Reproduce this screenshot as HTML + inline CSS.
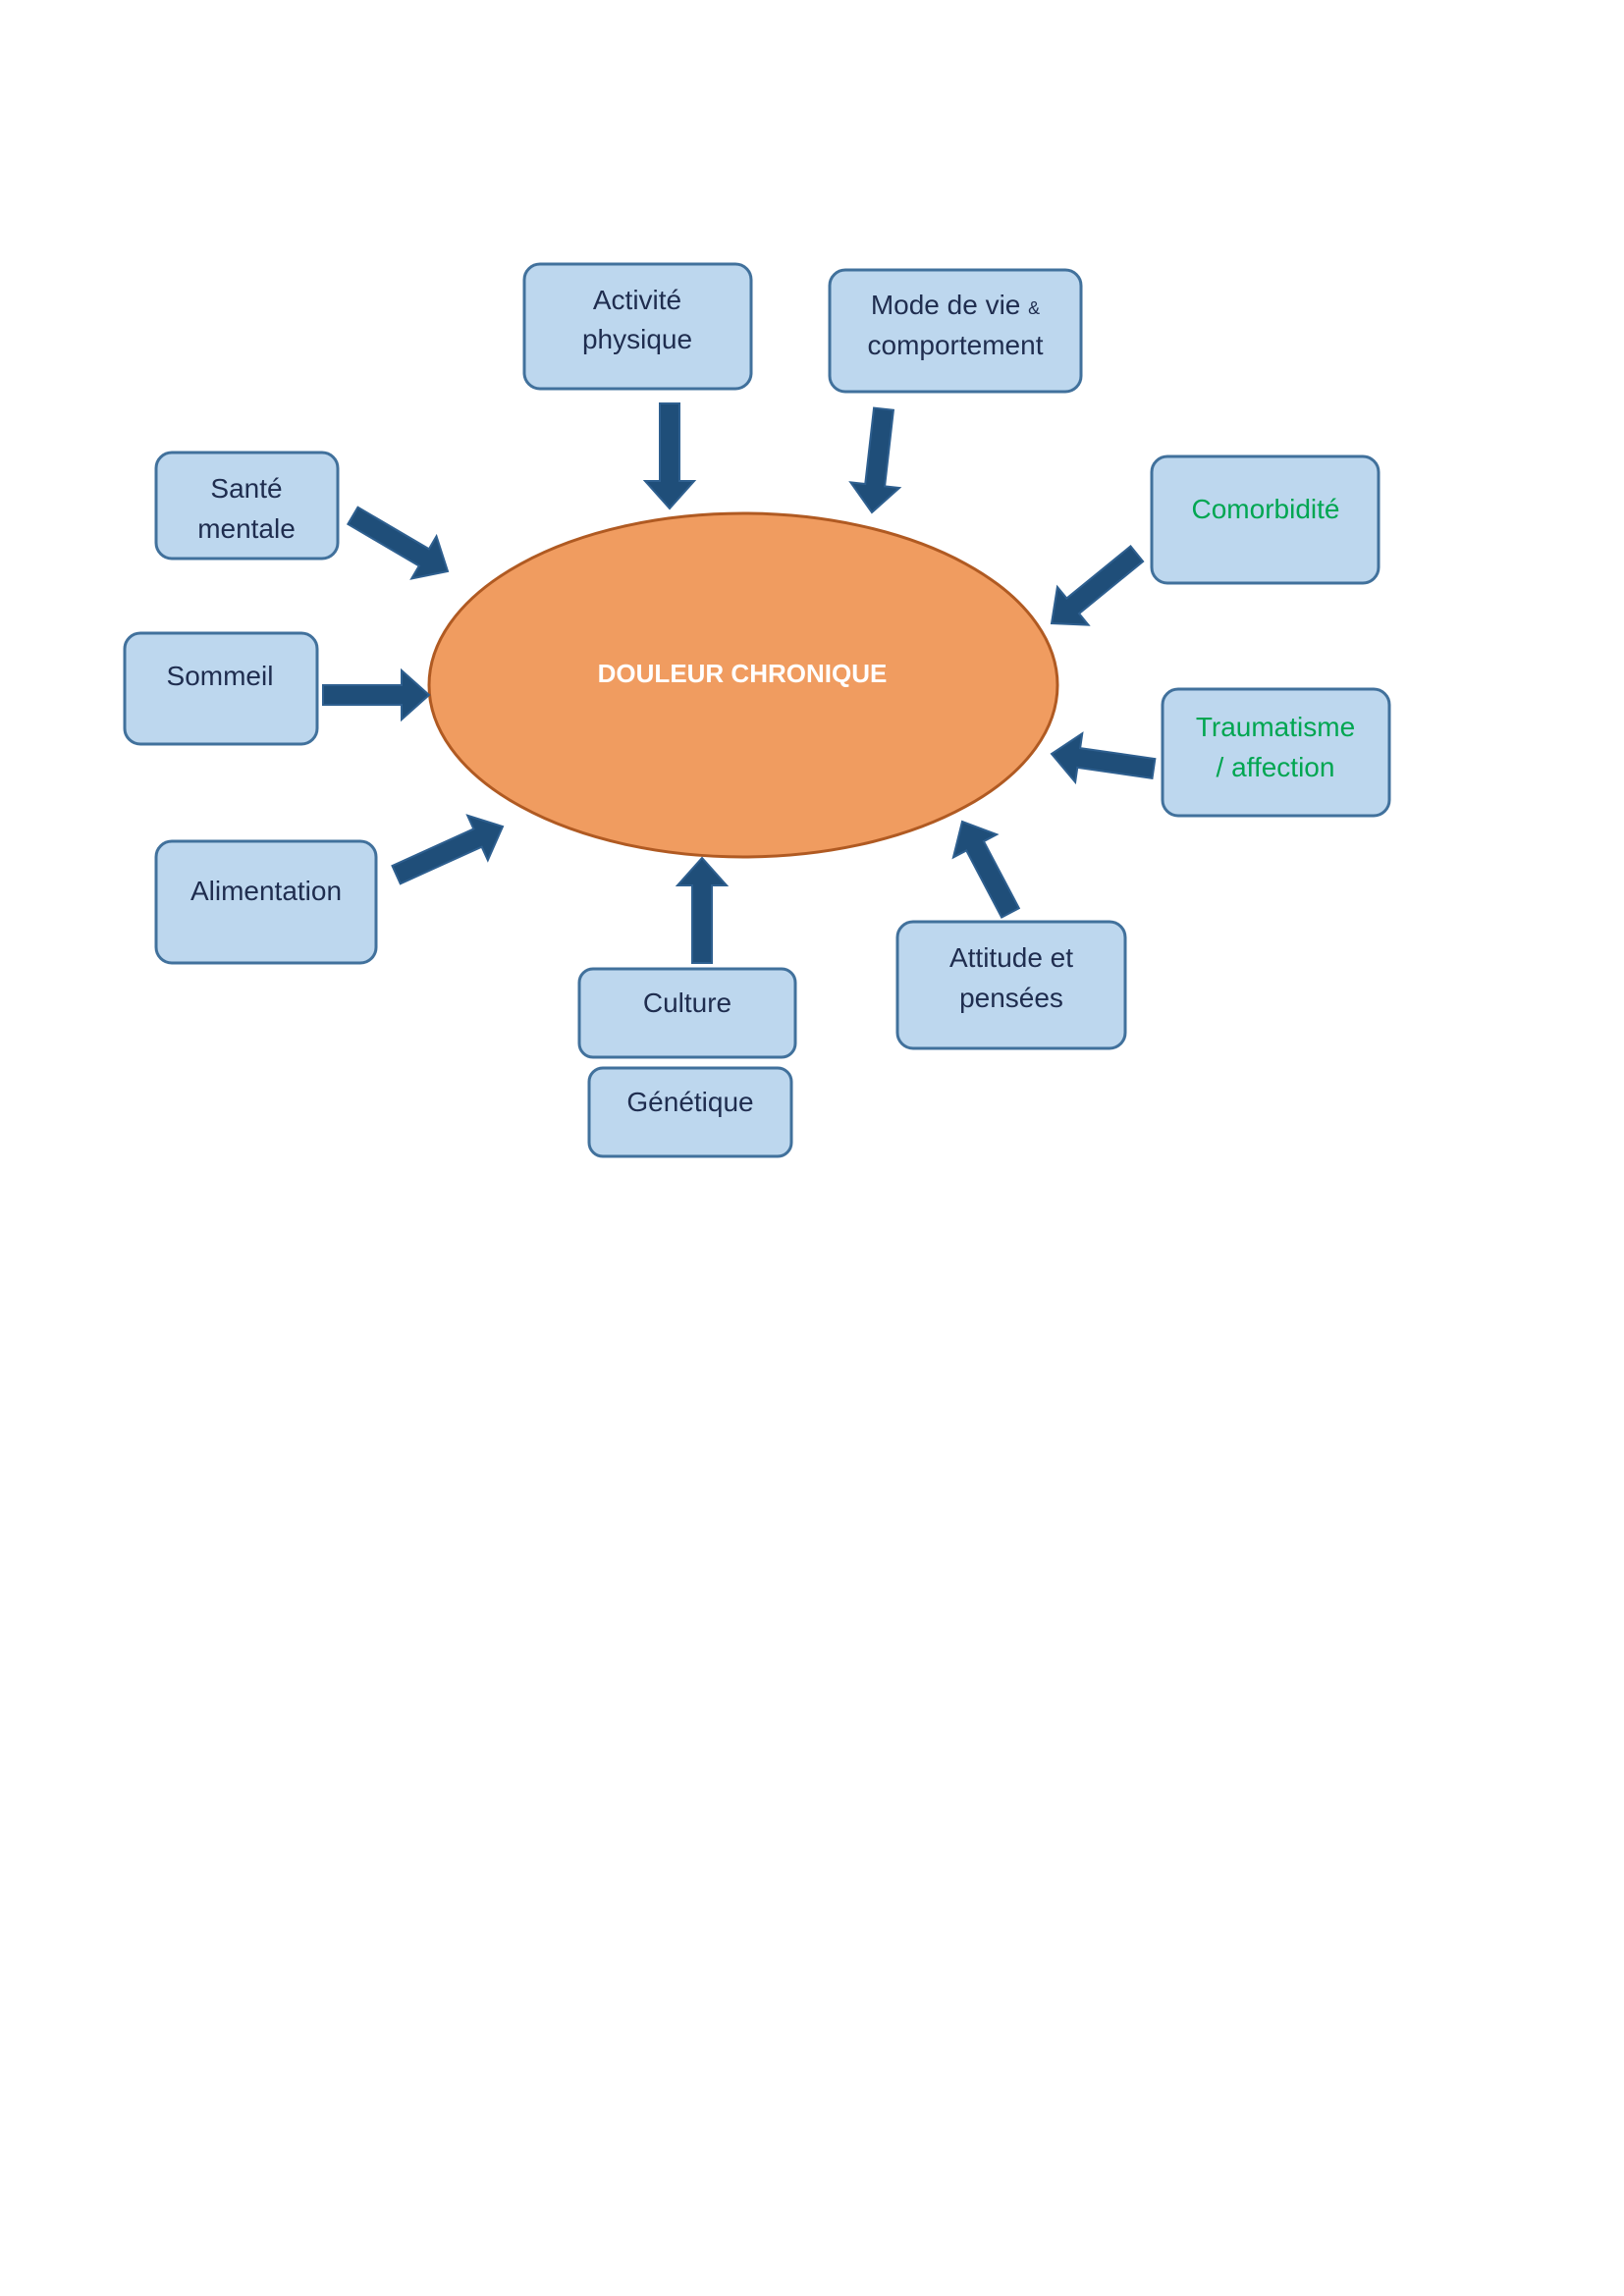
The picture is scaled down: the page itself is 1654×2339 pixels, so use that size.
<!DOCTYPE html>
<html><head><meta charset="utf-8"><style>
html,body{margin:0;padding:0;background:#fff;}
svg{display:block;}
text{font-family:"Liberation Sans",sans-serif;font-size:28px;fill:#1f2d4f;text-anchor:middle;}
.g{fill:#00a651;}
.a{fill:#1f4e79;stroke:#2e5f8f;stroke-width:2;}
</style></head><body>
<svg width="1654" height="2339" viewBox="0 0 1654 2339" xmlns="http://www.w3.org/2000/svg">
<g transform="translate(-3,-3)">
<g fill="#bdd7ee" stroke="#41719c" stroke-width="3">
<rect x="537" y="272" width="231" height="127" rx="16"/>
<rect x="848" y="278" width="256" height="124" rx="16"/>
<rect x="162" y="464" width="185" height="108" rx="16"/>
<rect x="1176" y="468" width="231" height="129" rx="16"/>
<rect x="130" y="648" width="196" height="113" rx="16"/>
<rect x="1187" y="705" width="231" height="129" rx="16"/>
<rect x="162" y="860" width="224" height="124" rx="16"/>
<rect x="593" y="990" width="220" height="90" rx="14"/>
<rect x="603" y="1091" width="206" height="90" rx="14"/>
<rect x="917" y="942" width="232" height="129" rx="16"/>
</g>
<ellipse cx="760" cy="701" rx="320" ry="175" fill="#f09c60" stroke="#b05a22" stroke-width="3"/>
<text x="759" y="698" style="fill:#fff;font-weight:bold;font-size:26px">DOULEUR CHRONIQUE</text>
<text x="652" y="318">Activité</text>
<text x="652" y="358">physique</text>
<text x="976" y="323">Mode de vie <tspan style="font-size:18px">&amp;</tspan></text>
<text x="976" y="364">comportement</text>
<text x="254" y="510">Santé</text>
<text x="254" y="551">mentale</text>
<text class="g" x="1292" y="531">Comorbidité</text>
<text x="227" y="701">Sommeil</text>
<text class="g" x="1302" y="753">Traumatisme</text>
<text class="g" x="1302" y="794">/ affection</text>
<text x="274" y="920">Alimentation</text>
<text x="703" y="1034">Culture</text>
<text x="706" y="1135">Génétique</text>
<text x="1033" y="988">Attitude et</text>
<text x="1033" y="1029">pensées</text>
<polygon class="a" transform="translate(685,521) rotate(90)" points="-107,-10 -28,-10 -28,-25 0,0 -28,25 -28,10 -107,10"/>
<polygon class="a" transform="translate(891,525) rotate(96.5)" points="-106,-10 -28,-10 -28,-25 0,0 -28,25 -28,10 -106,10"/>
<polygon class="a" transform="translate(459,585) rotate(30.4)" points="-112,-10 -28,-10 -28,-25 0,0 -28,25 -28,10 -112,10"/>
<polygon class="a" transform="translate(1074,638) rotate(140.8)" points="-112,-10 -28,-10 -28,-25 0,0 -28,25 -28,10 -112,10"/>
<polygon class="a" transform="translate(440,711)" points="-108,-10 -28,-10 -28,-25 0,0 -28,25 -28,10 -108,10"/>
<polygon class="a" transform="translate(1074,771) rotate(188.2)" points="-105,-10 -28,-10 -28,-25 0,0 -28,25 -28,10 -105,10"/>
<polygon class="a" transform="translate(515,845) rotate(-24.4)" points="-119,-10 -28,-10 -28,-25 0,0 -28,25 -28,10 -119,10"/>
<polygon class="a" transform="translate(718,877) rotate(-90)" points="-107,-10 -28,-10 -28,-25 0,0 -28,25 -28,10 -107,10"/>
<polygon class="a" transform="translate(983,840) rotate(-117.8)" points="-105,-10 -28,-10 -28,-25 0,0 -28,25 -28,10 -105,10"/>
</g>
</svg>
</body></html>
